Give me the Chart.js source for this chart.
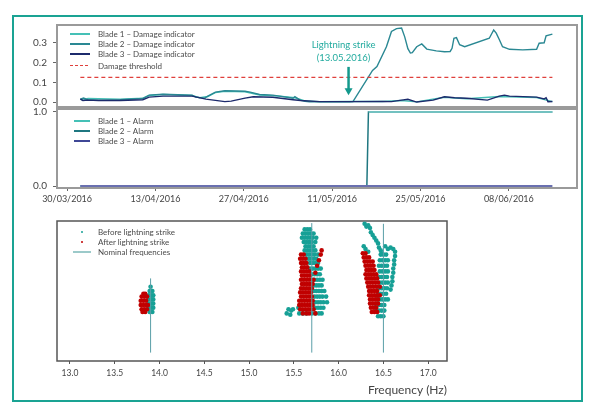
<!DOCTYPE html>
<html>
<head>
<meta charset="utf-8">
<script src="https://cdn.jsdelivr.net/npm/chart.js@4.4.0/dist/chart.umd.min.js"></script>
<style>
  body { margin: 0; background: #fff; }
  #wrap { position: relative; width: 595px; height: 410px; overflow: hidden; font-family: Lato, "Noto Sans", sans-serif; }
  #frame { position: absolute; left: 12px; top: 15px; width: 571px; height: 387px; border: 2px solid #1aa393; box-sizing: border-box; }
  canvas { position: absolute; left: 0; }
  .leg { position: absolute; font-size: 8px; color: #4a4a4a; white-space: nowrap; line-height: 10px; }
  .sample { position: absolute; }
</style>
</head>
<body>
<div id="wrap">
  <div id="frame"></div>
  <canvas id="indexChart" width="595" height="112" style="top:0"></canvas>
  <canvas id="alarmChart" width="595" height="100" style="top:107px"></canvas>
  <canvas id="freqChart" width="595" height="195" style="top:215px"></canvas>
</div>
<script>
// ---- data: damage indicator (x = days since 30/03/2016) ----
const blade1Days = [2.1, 2.6, 3.3, 8.4, 12, 13, 15.2, 19.8, 21, 22.3, 23.5, 25, 28.2, 30.5, 33.7, 36.1, 37.7, 40, 45, 50, 53, 55.4, 59.8, 63.3, 68.5, 74.4, 76.9];
const blade1Index = [0.015, 0.01, 0.018, 0.015, 0.02, 0.033, 0.038, 0.033, 0.022, 0.028, 0.048, 0.055, 0.052, 0.036, 0.03, 0.022, 0.006, 0.002, 0.003, 0.003, 0.008, 0.001, 0.024, 0.017, 0.028, 0.023, 0.002];

const blade2Days = [2.1, 2.6, 3.3, 5, 8.4, 12, 13, 15.2, 19.8, 20.4, 21.8, 22.3, 23.5, 25, 28.2, 29, 30.5, 32.6, 35.8, 36.1, 36.9, 37.7, 38.4, 44.8, 45.3, 48.4, 49.1, 50.6, 51.4, 52.2, 53.0, 53.5, 54.0, 54.4, 54.7, 55.4, 56.2, 57.0, 58.5, 59.8, 60.7, 61.0, 61.3, 61.7, 62.2, 63.0, 66.9, 67.6, 68.0, 68.5, 69.0, 70.1, 72.2, 74.4, 74.8, 75.6, 75.9, 76.9];
const blade2Index = [0.015, 0.02, 0.012, 0.01, 0.012, 0.018, 0.035, 0.04, 0.035, 0.025, 0.02, 0.03, 0.05, 0.057, 0.055, 0.05, 0.038, 0.035, 0.019, 0.027, 0.01, 0.004, 0.001, 0.001, 0.002, 0.16, 0.18, 0.28, 0.357, 0.372, 0.375, 0.33, 0.27, 0.248, 0.25, 0.28, 0.294, 0.268, 0.259, 0.255, 0.256, 0.272, 0.323, 0.326, 0.29, 0.28, 0.323, 0.365, 0.349, 0.315, 0.28, 0.267, 0.264, 0.267, 0.298, 0.30, 0.335, 0.344];

const blade3Days = [2.1, 2.5, 3.3, 5, 8.4, 12, 13, 15.2, 19.8, 22, 25, 26, 28.2, 29.5, 32.6, 35.8, 37, 40, 45, 50, 51.4, 53, 54, 55.4, 58, 59.8, 61.4, 63.3, 66.6, 68.5, 69.3, 70.1, 74.4, 75.6, 75.9, 76.2, 76.9];
const blade3Index = [0.015, 0.008, 0.01, 0.008, 0.008, 0.012, 0.025, 0.03, 0.03, 0.015, 0.002, 0.005, 0.02, 0.027, 0.024, 0.012, 0.008, 0.002, 0.002, 0.003, 0.002, 0.01, 0.014, 0.0, 0.01, 0.027, 0.022, 0.019, 0.01, 0.03, 0.035, 0.03, 0.025, 0.016, 0.022, 0.002, 0.003];

const thresholdDays = [2.1, 76.9];
const thresholdValue = 0.125;

const strikeDay = 44.6;
const strikeLabel = ["Lightning strike", "(13.05.2016)"];

// ---- data: alarms ----
const alarm1Days = [2.1, 47.75, 47.77, 47.8, 76.9];
const alarm1Values = [0, 0, null, 1, 1];
const alarm2Days = [2.1, 47.5, 47.75, 76.9];
const alarm2Values = [0, 0, 1, 1];
const alarm3Days = [2.1, 76.9];
const alarm3Values = [0, 0];

const dateTicks = [0, 14, 28, 42, 56, 70];
const indexTicks = [0, 0.1, 0.2, 0.3];
const alarmTicks = [0, 1];

// ---- data: frequencies (rows of [y, [x...]]) ----
const beforeRows = [
  [53, [13.90]], [50, [13.89, 13.92]], [47, [13.88, 13.91, 13.93]], [44, [13.88, 13.91, 13.93]],
  [41, [13.88, 13.91, 13.93]], [38, [13.88, 13.91, 13.93]], [35, [13.89, 13.92]],
  [94, [15.62, 15.65, 15.68]], [91, [15.60, 15.63, 15.66, 15.69, 15.72]],
  [88, [15.59, 15.62, 15.65, 15.68, 15.71, 15.75]], [85, [15.61, 15.64, 15.67, 15.70, 15.74]],
  [82, [15.63, 15.66, 15.69, 15.72]], [79, [15.62, 15.65, 15.68, 15.71, 15.74]],
  [76, [15.64, 15.67, 15.70, 15.73, 15.77]], [73, [15.66, 15.69, 15.72, 15.75]],
  [70, [15.68, 15.71, 15.74, 15.77]], [66, [15.68, 15.71, 15.74, 15.77, 15.80]],
  [62, [15.70, 15.73, 15.76, 15.79]], [58, [15.70, 15.73, 15.76, 15.79, 15.82]],
  [54, [15.72, 15.75, 15.78, 15.81]], [50, [15.72, 15.75, 15.78, 15.81, 15.84]],
  [46, [15.73, 15.76, 15.79, 15.82, 15.86]], [42, [15.74, 15.77, 15.80, 15.83, 15.87]],
  [38, [15.55, 15.74, 15.77, 15.80, 15.83]], [34, [15.56, 15.60, 15.64, 15.70, 15.74, 15.78, 15.81]],
  [76, [16.47, 16.50, 16.53]], [72, [16.46, 16.49, 16.52, 16.55]], [68, [16.45, 16.48, 16.51, 16.54]],
  [64, [16.46, 16.49, 16.52, 16.55]], [60, [16.45, 16.48, 16.51, 16.54]], [56, [16.46, 16.49, 16.52, 16.55]],
  [52, [16.45, 16.48, 16.51, 16.54]], [48, [16.44, 16.47, 16.50, 16.53]],
  [44, [16.43, 16.46, 16.49, 16.52, 16.55]], [40, [16.42, 16.45, 16.48, 16.51]],
  [36, [16.42, 16.45, 16.48, 16.51]], [32, [16.44, 16.47, 16.50]]
];
const beforeExtra = [
  [15.42, 34], [15.44, 37], [15.47, 36], [15.49, 37], [15.46, 33],
  [16.29, 98], [16.31, 96], [16.33, 97], [16.35, 95], [16.36, 92], [16.38, 90], [16.40, 88],
  [16.42, 86], [16.44, 84], [16.45, 81], [16.47, 79], [16.48, 77],
  [16.28, 82], [16.30, 80], [16.33, 78],
  [16.52, 82], [16.55, 80], [16.58, 81], [16.61, 80], [16.63, 78],
  [16.63, 75], [16.62, 72], [16.62, 69], [16.61, 66], [16.61, 63], [16.60, 60], [16.60, 57], [16.59, 54], [16.58, 51]
];
const afterRows = [
  [48, [13.82, 13.84]], [46, [13.80, 13.83, 13.86]], [43, [13.79, 13.82, 13.85]],
  [40, [13.79, 13.82, 13.85, 13.87]], [37, [13.80, 13.83, 13.86]], [35, [13.81, 13.84]],
  [76, [15.58, 15.61]], [73, [15.57, 15.60, 15.63]], [70, [15.58, 15.61, 15.64]], [67, [15.59, 15.62, 15.65]],
  [64, [15.58, 15.61, 15.64, 15.67]], [61, [15.59, 15.62, 15.65, 15.68]], [58, [15.58, 15.61, 15.64, 15.67]],
  [55, [15.59, 15.62, 15.65, 15.68, 15.71]], [52, [15.58, 15.61, 15.64, 15.67, 15.70]],
  [49, [15.57, 15.60, 15.63, 15.66, 15.69]], [46, [15.58, 15.61, 15.64, 15.67, 15.70]],
  [43, [15.56, 15.59, 15.62, 15.65, 15.68, 15.71]], [40, [15.56, 15.59, 15.62, 15.65, 15.68, 15.71]],
  [37, [15.57, 15.60, 15.63, 15.66, 15.69, 15.72]], [34, [15.60, 15.64, 15.67, 15.74]],
  [77, [16.27, 16.30]], [74, [16.28, 16.31, 16.34]], [71, [16.29, 16.32, 16.35, 16.38]],
  [68, [16.30, 16.33, 16.36, 16.39]], [65, [16.31, 16.34, 16.37, 16.40]],
  [62, [16.30, 16.33, 16.36, 16.39, 16.42]], [59, [16.31, 16.34, 16.37, 16.40, 16.43]],
  [56, [16.32, 16.35, 16.38, 16.41, 16.44]], [53, [16.33, 16.36, 16.39, 16.42, 16.46]],
  [50, [16.34, 16.37, 16.40, 16.43]], [47, [16.34, 16.37, 16.40, 16.43, 16.46]],
  [44, [16.35, 16.38, 16.41, 16.44]], [41, [16.35, 16.38, 16.41, 16.44]],
  [38, [16.36, 16.39, 16.42]], [35, [16.37, 16.40, 16.43]]
];
const afterExtra = [[15.72, 58], [15.74, 63], [15.76, 68], [15.78, 72], [15.80, 76], [15.81, 79]];

const nominalFreqs = [13.9, 15.7, 16.5];
const nominalTops = [59, 98.5, 98];
const nominalBottom = 6;
const freqTicks = [13.0, 13.5, 14.0, 14.5, 15.0, 15.5, 16.0, 16.5, 17.0];

// ---- colours ----
const colors = {
  blade1: "#45c0b6",
  blade2: "#2a8893",
  blade3: "#1c2a6c",
  threshold: "#e0403c",
  alarm1: "#7fcfcb",
  alarm2: "#1f7780",
  alarm3: "#6a70b0",
  before: "#17a096",
  after: "#c00000",
  nominal: "#5a9fa8",
  strike: "#22ab9f",
  tick: "#444"
};

const pairs = (xs, ys) => xs.map((x, i) => ({ x: x, y: ys[i] }));
const rowsToPoints = rows => rows.flatMap(([y, xs]) => xs.map(x => ({ x: x, y: y })));
const extraToPoints = list => list.map(([x, y]) => ({ x: x, y: y }));

function dayLabel(d) {
  const dt = new Date(Date.UTC(2016, 2, 30 + d));
  const dd = String(dt.getUTCDate()).padStart(2, "0");
  const mm = String(dt.getUTCMonth() + 1).padStart(2, "0");
  return dd + "/" + mm + "/" + dt.getUTCFullYear();
}

const fixTicks = list => axis => { axis.ticks = list.map(v => ({ value: v })); };

// keep tick labels from pushing the plot area around
const noPad = s => { s.paddingTop = 0; s.paddingBottom = 0; s.paddingLeft = 0; s.paddingRight = 0; };

// draws the grey box around the plot area
const framePlugin = {
  id: "frame",
  beforeDatasetsDraw(chart, args, opts) {
    const { ctx, chartArea: a } = chart;
    ctx.save();
    ctx.strokeStyle = opts.color || "#999";
    ctx.lineWidth = opts.width || 1.5;
    ctx.strokeRect(a.left, a.top, a.width, a.height);
    ctx.restore();
  }
};

// lightning strike label + arrow
const strikePlugin = {
  id: "strike",
  afterDatasetsDraw(chart) {
    const { ctx, scales: { x, y } } = chart;
    const px = x.getPixelForValue(strikeDay);
    ctx.save();
    ctx.fillStyle = colors.strike;
    ctx.font = "9.5px Lato, 'Noto Sans', sans-serif";
    ctx.textAlign = "center";
    ctx.textBaseline = "middle";
    ctx.fillText(strikeLabel[0], px - 5, y.getPixelForValue(0.29));
    ctx.fillText(strikeLabel[1], px - 5, y.getPixelForValue(0.223));
    const y0 = y.getPixelForValue(0.178);
    const y1 = y.getPixelForValue(0.035);
    ctx.strokeStyle = "#13998c";
    ctx.fillStyle = "#13998c";
    ctx.lineWidth = 2.5;
    ctx.beginPath();
    ctx.moveTo(px, y0);
    ctx.lineTo(px, y1 - 6);
    ctx.stroke();
    ctx.beginPath();
    ctx.moveTo(px - 4, y1 - 7);
    ctx.lineTo(px + 4, y1 - 7);
    ctx.lineTo(px, y1);
    ctx.closePath();
    ctx.fill();
    ctx.restore();
  }
};

Chart.defaults.font.family = "Lato, 'Noto Sans', sans-serif";
Chart.defaults.color = colors.tick;
Chart.defaults.animation = false;

const lineSet = (label, data, color, width, extra) => Object.assign({
  label: label,
  data: data,
  borderColor: color,
  backgroundColor: color,
  borderWidth: width,
  pointRadius: 0,
  tension: 0,
  spanGaps: false
}, extra || {});

const dateAxis = (showLabels) => ({
  type: "linear",
  min: -1.6,
  max: 80.8,
  display: showLabels,
  afterBuildTicks: fixTicks(dateTicks),
  grid: { display: true, drawOnChartArea: false, drawTicks: true, tickLength: 3, color: "#666" },
  border: { display: false },
  ticks: { font: { size: 9 }, padding: 3, maxRotation: 0, callback: v => dayLabel(v) },
  afterFit: s => { s.height = showLabels ? 19 : 0; noPad(s); }
});

const valueAxis = (min, max, ticks) => ({
  min: min,
  max: max,
  afterBuildTicks: fixTicks(ticks),
  afterFit: s => { s.width = 57; noPad(s); },
  grid: { display: true, drawOnChartArea: false, tickLength: 4, color: "#666" },
  border: { display: false },
  ticks: { font: { size: 10 }, padding: 6, callback: v => v.toFixed(1) }
});

// ---- damage indicator chart ----
new Chart(document.getElementById("indexChart"), {
  type: "line",
  data: {
    datasets: [
      lineSet("Damage threshold", pairs(thresholdDays, thresholdDays.map(() => thresholdValue)), colors.threshold, 1.2, { borderDash: [4, 3] }),
      lineSet("Blade 3 – Damage indicator", pairs(blade3Days, blade3Index), colors.blade3, 1.4),
      lineSet("Blade 2 – Damage indicator", pairs(blade2Days, blade2Index), colors.blade2, 1.4),
      lineSet("Blade 1 – Damage indicator", pairs(blade1Days, blade1Index), colors.blade1, 1.4)
    ]
  },
  options: {
    responsive: false,
    layout: { autoPadding: false, padding: { left: 0, right: 18, top: 25, bottom: 5 } },
    scales: {
      x: dateAxis(false),
      y: valueAxis(-0.025, 0.39, indexTicks)
    },
    plugins: {
      legend: { display: false },
      tooltip: { enabled: false },
      frame: { color: "#9a9a9a", width: 2 }
    }
  },
  plugins: [framePlugin, strikePlugin]
});

// ---- alarm chart ----
new Chart(document.getElementById("alarmChart"), {
  type: "line",
  data: {
    datasets: [
      lineSet("Blade 3 – Alarm", pairs(alarm3Days, alarm3Values), colors.alarm3, 2),
      lineSet("Blade 1 – Alarm", pairs(alarm1Days, alarm1Values), colors.alarm1, 1.5),
      lineSet("Blade 2 – Alarm", pairs(alarm2Days, alarm2Values), colors.alarm2, 1.5)
    ]
  },
  options: {
    responsive: false,
    layout: { autoPadding: false, padding: { left: 0, right: 18, top: 2, bottom: 0 } },
    scales: {
      x: dateAxis(true),
      y: valueAxis(-0.027, 1.04, alarmTicks)
    },
    plugins: {
      legend: { display: false },
      tooltip: { enabled: false },
      frame: { color: "#9a9a9a", width: 2 }
    }
  },
  plugins: [framePlugin]
});

// ---- frequency scatter ----
const nominalSets = nominalFreqs.map((f, i) => ({
  type: "line",
  label: "Nominal frequencies",
  data: [{ x: f, y: nominalBottom }, { x: f, y: nominalTops[i] }],
  borderColor: colors.nominal,
  borderWidth: 1,
  pointRadius: 0,
  order: 0
}));

new Chart(document.getElementById("freqChart"), {
  type: "scatter",
  data: {
    datasets: [
      ...nominalSets,
      {
        label: "After lightning strike",
        data: rowsToPoints(afterRows).concat(extraToPoints(afterExtra)),
        backgroundColor: colors.after,
        borderWidth: 0,
        pointRadius: 2.3,
        order: 1
      },
      {
        label: "Before lightning strike",
        data: rowsToPoints(beforeRows).concat(extraToPoints(beforeExtra)),
        backgroundColor: colors.before,
        borderWidth: 0,
        pointRadius: 2.3,
        order: 2
      }
    ]
  },
  options: {
    responsive: false,
    layout: { autoPadding: false, padding: { left: 57, right: 148, top: 6, bottom: 9 } },
    scales: {
      x: {
        type: "linear",
        min: 12.855,
        max: 17.21,
        afterBuildTicks: fixTicks(freqTicks),
        afterFit: s => { s.height = 40; noPad(s); },
        grid: { display: true, drawOnChartArea: false, tickLength: 3, color: "#555" },
        border: { display: false },
        ticks: { font: { size: 8.5 }, padding: 4, callback: v => v.toFixed(1) },
        title: {
          display: true,
          text: "Frequency (Hz)",
          align: "end",
          color: "#444",
          font: { size: 12 },
          padding: { top: 0, bottom: 4 }
        }
      },
      y: { display: false, min: 0, max: 100 }
    },
    plugins: {
      legend: { display: false },
      tooltip: { enabled: false },
      frame: { color: "#555", width: 1.5 }
    }
  },
  plugins: [framePlugin]
});

// ---- HTML legends placed inside the plot boxes ----
const wrap = document.getElementById("wrap");
function addLegendRow(text, y, sample) {
  const row = document.createElement("div");
  row.className = "leg";
  row.style.left = "98px";
  row.style.top = (y - 5) + "px";
  row.textContent = text;
  wrap.appendChild(row);
  const s = document.createElement("div");
  s.className = "sample";
  Object.assign(s.style, sample);
  wrap.appendChild(s);
}
const lineSample = (x0, x1, y, color) => ({
  left: x0 + "px", top: (y - 1) + "px", width: (x1 - x0) + "px", height: "2px", background: color
});
const dashSample = (x0, x1, y, color) => ({
  left: x0 + "px", top: (y - 1) + "px", width: (x1 - x0) + "px", height: "1px",
  background: "repeating-linear-gradient(90deg, " + color + " 0 3px, transparent 3px 5px)"
});
const dotSample = (x, y, color) => ({
  left: (x - 1) + "px", top: (y - 1) + "px", width: "2px", height: "2px", borderRadius: "1px", background: color
});

addLegendRow("Blade 1 – Damage indicator", 34, lineSample(70, 90, 34, colors.blade1));
addLegendRow("Blade 2 – Damage indicator", 44, lineSample(70, 90, 44, colors.blade2));
addLegendRow("Blade 3 – Damage indicator", 54, lineSample(70, 90, 54, colors.blade3));
addLegendRow("Damage threshold", 66, dashSample(70, 90, 66, colors.threshold));

addLegendRow("Blade 1 – Alarm", 121, lineSample(74, 90, 121, colors.blade1));
addLegendRow("Blade 2 – Alarm", 131, lineSample(74, 90, 131, colors.alarm2));
addLegendRow("Blade 3 – Alarm", 141, lineSample(74, 90, 141, "#3f4796"));

addLegendRow("Before lightning strike", 232, dotSample(82, 232, colors.before));
addLegendRow("After lightning strike", 242, dotSample(82, 242, colors.after));
addLegendRow("Nominal frequencies", 252, lineSample(73, 91, 252, "#9ccaca"));
</script>
</body>
</html>
